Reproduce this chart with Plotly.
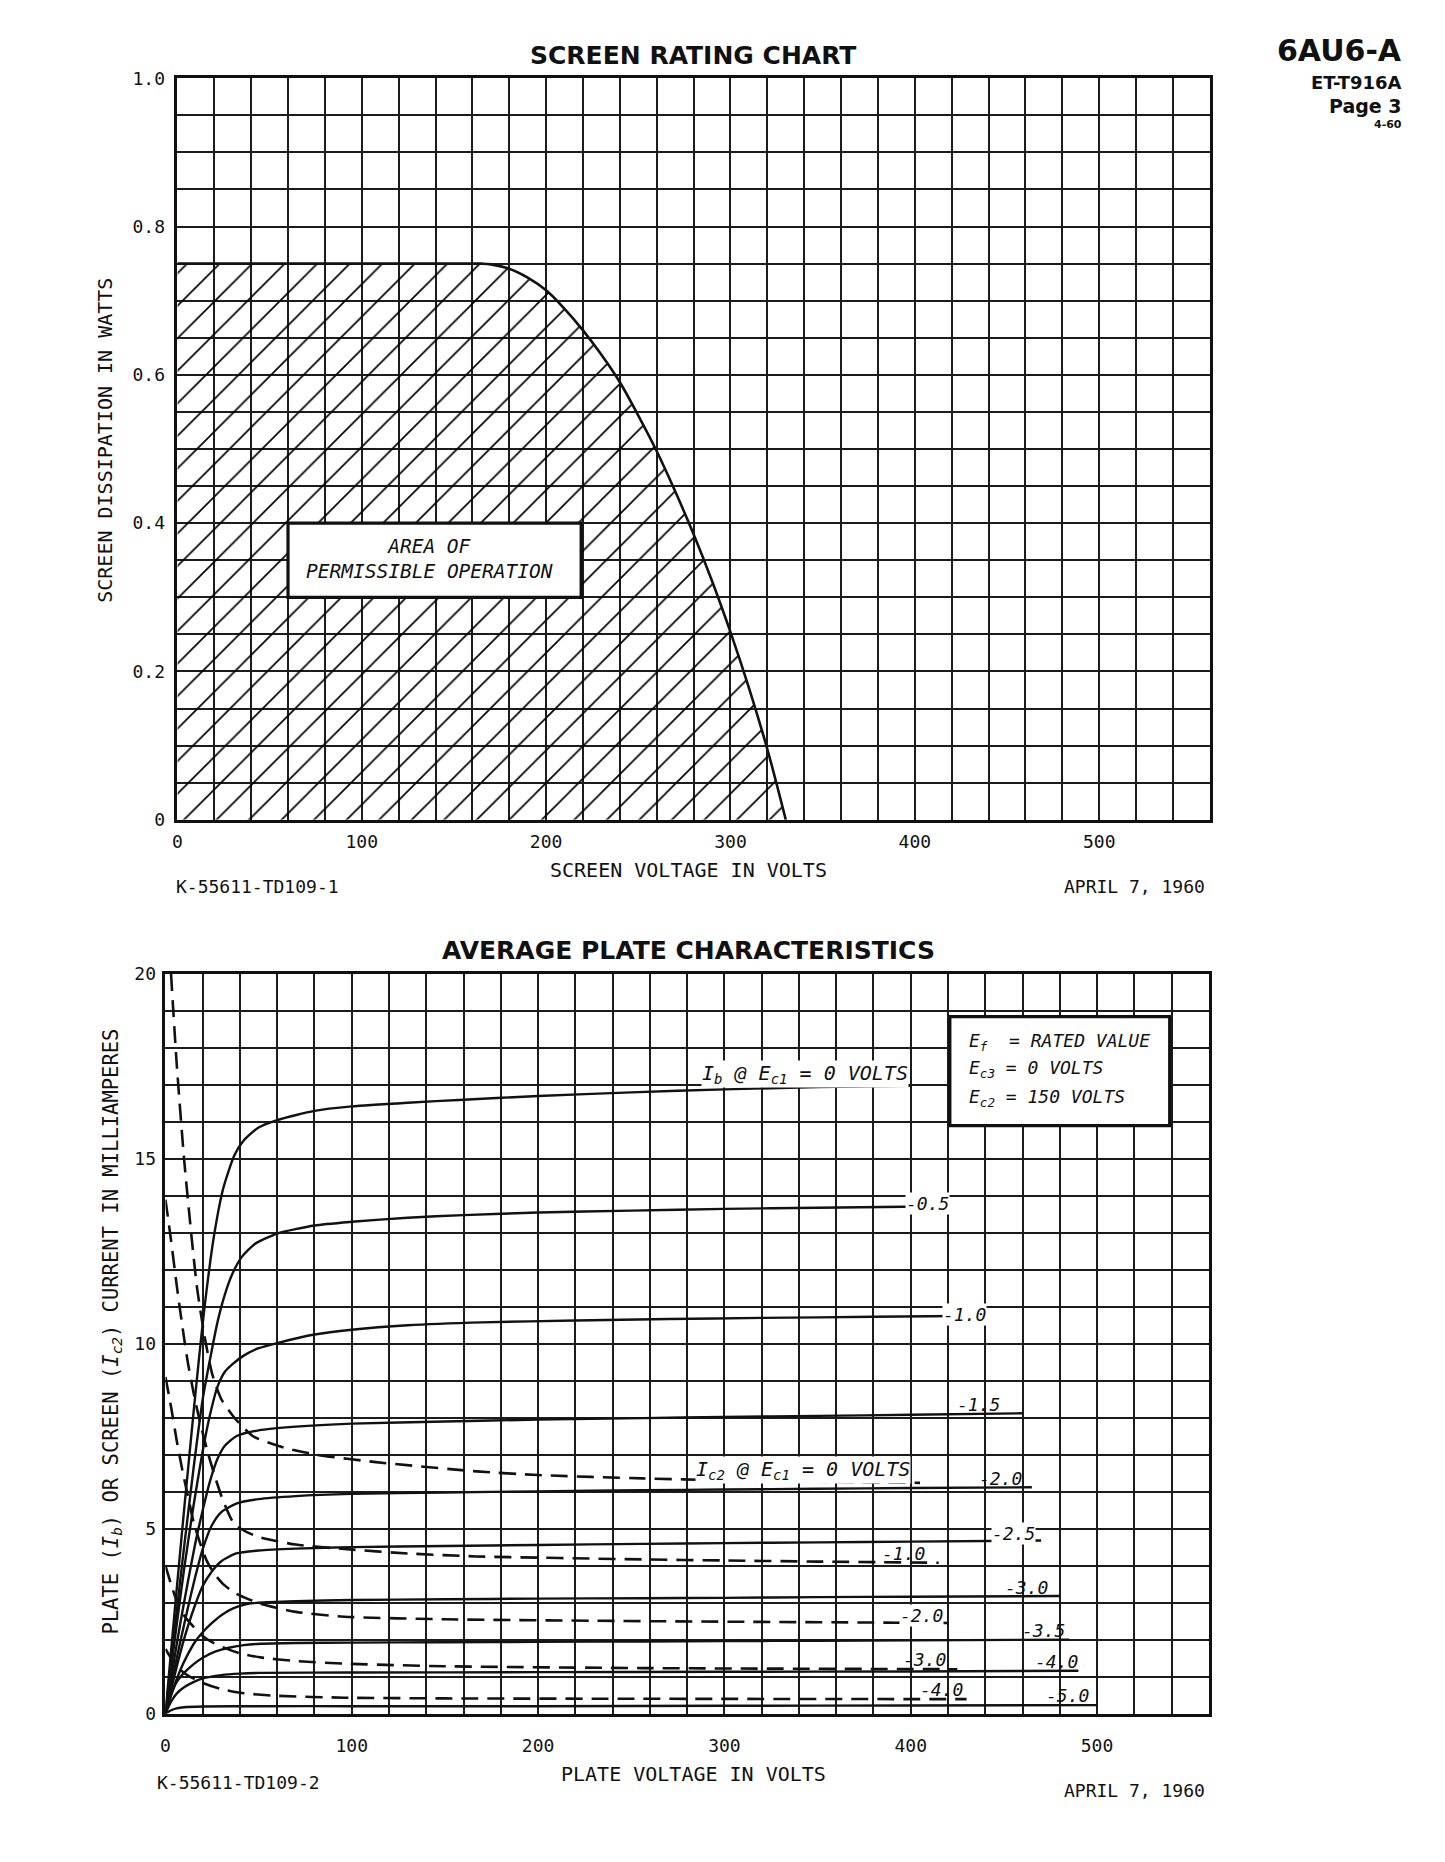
import plotly.graph_objects as go

W, H = 1445, 1862

# ---------------- SCREEN RATING CHART data ----------------
screen_voltage = [0, 50, 100, 150, 165, 170, 180, 190, 200, 210, 220, 230, 240, 250, 260, 270,
                  280, 290, 300, 310, 320, 330]
screen_dissipation = [0.75, 0.75, 0.75, 0.75, 0.75, 0.749, 0.743, 0.731, 0.714, 0.689, 0.66,
                      0.627, 0.59, 0.545, 0.497, 0.443, 0.385, 0.322, 0.253, 0.178, 0.095, 0.0]

rating_x_ticks = [0, 100, 200, 300, 400, 500]
rating_x_labels = ["0", "100", "200", "300", "400", "500"]
rating_y_ticks = [0, 0.2, 0.4, 0.6, 0.8, 1.0]
rating_y_labels = ["0", "0.2", "0.4", "0.6", "0.8", "1.0"]

# ---------------- AVERAGE PLATE CHARACTERISTICS data ----------------
plate_x_ticks = [0, 100, 200, 300, 400, 500]
plate_x_labels = ["0", "100", "200", "300", "400", "500"]
plate_y_ticks = [0, 5, 10, 15, 20]
plate_y_labels = ["0", "5", "10", "15", "20"]

# plate current Ib (solid) for each grid-1 voltage
ib_v_0 = [0, 5, 10, 15, 18, 21, 26, 31, 37, 42, 50, 60, 80, 100, 130, 160, 200, 250, 300, 350, 400]
ib_i_0 = [0, 2.8, 5.5, 8.1, 9.6, 11.0, 12.9, 14.2, 15.1, 15.5, 15.85, 16.05, 16.3, 16.42, 16.52, 16.6, 16.7, 16.8, 16.88, 16.94, 16.98]

ib_v_05 = [0, 5, 10, 15, 20, 24, 28, 32, 36, 41, 48, 60, 80, 100, 130, 160, 200, 250, 300, 350, 420]
ib_i_05 = [0, 2.3, 4.5, 6.6, 8.5, 9.6, 10.6, 11.35, 11.9, 12.35, 12.7, 12.98, 13.2, 13.3, 13.41, 13.48, 13.55, 13.6, 13.65, 13.68, 13.72]

ib_v_10 = [0, 5, 10, 15, 20, 24, 28, 32, 36, 42, 50, 60, 80, 100, 130, 170, 220, 270, 320, 380, 440]
ib_i_10 = [0, 2.0, 3.9, 5.6, 7.1, 8.1, 8.85, 9.25, 9.45, 9.68, 9.88, 10.02, 10.25, 10.38, 10.5, 10.58, 10.63, 10.67, 10.7, 10.73, 10.76]

ib_v_15 = [0, 4, 8, 12, 16, 20, 24, 28, 32, 38, 50, 70, 100, 150, 200, 256, 300, 350, 400, 460]
ib_i_15 = [0, 1.25, 2.45, 3.55, 4.6, 5.5, 6.3, 6.9, 7.25, 7.5, 7.66, 7.76, 7.84, 7.9, 7.95, 7.99, 8.02, 8.05, 8.08, 8.12]

ib_v_20 = [0, 4, 8, 12, 16, 20, 25, 30, 38, 50, 70, 100, 150, 200, 256, 300, 350, 400, 465]
ib_i_20 = [0, 1.0, 1.95, 2.85, 3.7, 4.45, 5.1, 5.45, 5.68, 5.8, 5.88, 5.94, 5.98, 6.01, 6.04, 6.06, 6.08, 6.1, 6.12]

ib_v_25 = [0, 4, 8, 12, 16, 20, 25, 30, 38, 50, 70, 100, 150, 200, 256, 300, 350, 400, 470]
ib_i_25 = [0, 0.85, 1.65, 2.35, 2.95, 3.45, 3.85, 4.12, 4.33, 4.41, 4.46, 4.5, 4.53, 4.56, 4.59, 4.61, 4.63, 4.65, 4.68]

ib_v_30 = [0, 4, 8, 12, 16, 20, 25, 30, 36, 42, 50, 70, 100, 150, 200, 256, 300, 350, 400, 480]
ib_i_30 = [0, 0.65, 1.18, 1.6, 1.95, 2.2, 2.45, 2.66, 2.84, 2.94, 3.0, 3.04, 3.07, 3.09, 3.11, 3.12, 3.13, 3.15, 3.16, 3.18]

ib_v_35 = [0, 3, 6, 10, 15, 20, 27, 34, 42, 51, 70, 100, 150, 200, 256, 300, 350, 400, 485]
ib_i_35 = [0, 0.5, 0.85, 1.1, 1.33, 1.51, 1.68, 1.78, 1.85, 1.89, 1.91, 1.92, 1.93, 1.94, 1.95, 1.96, 1.97, 1.98, 2.0]

ib_v_40 = [0, 3, 6, 10, 15, 20, 30, 40, 51, 100, 200, 300, 400, 490]
ib_i_40 = [0, 0.32, 0.54, 0.71, 0.85, 0.95, 1.04, 1.08, 1.1, 1.11, 1.12, 1.13, 1.14, 1.16]

ib_v_50 = [0, 3, 6, 10, 20, 50, 100, 200, 300, 400, 500]
ib_i_50 = [0, 0.09, 0.14, 0.17, 0.19, 0.2, 0.2, 0.2, 0.21, 0.22, 0.23]

# screen current Ic2 (dashed)
ic2_v_0 = [3, 6, 10, 14, 17, 21, 25, 30, 37, 47, 63, 81, 113, 167, 200, 256, 300, 350, 405]
ic2_i_0 = [20.0, 17.6, 15.0, 12.9, 11.5, 10.2, 9.2, 8.5, 8.0, 7.5, 7.2, 7.0, 6.8, 6.55, 6.45, 6.36, 6.31, 6.27, 6.24]

ic2_v_10 = [0, 3, 6, 9, 12, 15, 18, 22, 26, 31, 37, 44, 51, 70, 96, 130, 167, 256, 300, 350, 415]
ic2_i_10 = [13.9, 12.8, 11.6, 10.5, 9.5, 8.7, 8.0, 7.2, 6.5, 5.75, 5.12, 4.9, 4.76, 4.57, 4.45, 4.33, 4.25, 4.17, 4.14, 4.11, 4.08]

ic2_v_20 = [0, 3, 6, 9, 12, 15, 18, 22, 26, 31, 38, 51, 70, 96, 150, 256, 420]
ic2_i_20 = [9.1, 8.3, 7.4, 6.6, 5.9, 5.2, 4.7, 4.15, 3.8, 3.5, 3.24, 2.97, 2.75, 2.62, 2.55, 2.5, 2.45]

ic2_v_30 = [0, 3, 6, 10, 15, 20, 25, 32, 40, 51, 70, 96, 150, 256, 425]
ic2_i_30 = [4.0, 3.5, 3.05, 2.65, 2.35, 2.1, 1.93, 1.77, 1.63, 1.52, 1.42, 1.35, 1.28, 1.23, 1.2]

ic2_v_40 = [0, 3, 6, 10, 15, 20, 30, 42, 60, 96, 150, 256, 430]
ic2_i_40 = [1.75, 1.5, 1.3, 1.1, 0.95, 0.83, 0.66, 0.55, 0.48, 0.43, 0.41, 0.4, 0.39]

plate_curves = [(ib_v_0, ib_i_0), (ib_v_05, ib_i_05), (ib_v_10, ib_i_10), (ib_v_15, ib_i_15),
                (ib_v_20, ib_i_20), (ib_v_25, ib_i_25), (ib_v_30, ib_i_30), (ib_v_35, ib_i_35),
                (ib_v_40, ib_i_40), (ib_v_50, ib_i_50)]
screen_curves = [(ic2_v_0, ic2_i_0), (ic2_v_10, ic2_i_10), (ic2_v_20, ic2_i_20),
                 (ic2_v_30, ic2_i_30), (ic2_v_40, ic2_i_40)]

# ---------------- styling ----------------
MONO = "DejaVu Sans Mono"
SANS = "DejaVu Sans"
INK = "#111111"
GRID = "#1c1c1c"


def px(x):
    return x / W


def py(y):
    return 1 - y / H


fig = go.Figure()

# screen rating curve with hatched permissible area
fig.add_trace(go.Scatter(
    x=screen_voltage, y=screen_dissipation, xaxis="x", yaxis="y", mode="lines",
    line=dict(color=INK, width=2.6, shape="spline", smoothing=1.0),
    fill="tozeroy", fillcolor="rgba(0,0,0,0)",
    fillpattern=dict(shape="/", size=23, solidity=0.072, fgcolor="#000000", fgopacity=1,
                     bgcolor="rgba(0,0,0,0)"),
    hoverinfo="skip"))

for v, i in plate_curves:
    fig.add_trace(go.Scatter(x=v, y=i, xaxis="x2", yaxis="y2", mode="lines",
                             line=dict(color=INK, width=2.4, shape="spline", smoothing=0.6),
                             hoverinfo="skip"))
for v, i in screen_curves:
    fig.add_trace(go.Scatter(x=v, y=i, xaxis="x2", yaxis="y2", mode="lines",
                             line=dict(color=INK, width=2.6, shape="spline", smoothing=0.6,
                                       dash="17px,9px"),
                             hoverinfo="skip"))


def axis(**kw):
    base = dict(showgrid=True, gridcolor=GRID, gridwidth=1.7, showline=True, linecolor=INK,
                linewidth=2.6, mirror=True, zeroline=False, ticks="",
                tickfont=dict(family=MONO, size=18, color=INK), fixedrange=True,
                tickmode="array")
    base.update(kw)
    return base


fig.update_layout(
    width=W, height=H, margin=dict(l=0, r=0, t=0, b=0),
    paper_bgcolor="white", plot_bgcolor="white", showlegend=False,
    xaxis=axis(domain=[px(173), px(1209)], range=[0, 560], anchor="y",
               tickvals=rating_x_ticks, ticktext=rating_x_labels, ticklabelstandoff=4,
               minor=dict(tickmode="linear", tick0=0, dtick=20, showgrid=True,
                          gridcolor=GRID, gridwidth=1.7)),
    yaxis=axis(domain=[py(818), py(68)], range=[0, 1.0], anchor="x",
               tickvals=rating_y_ticks, ticktext=rating_y_labels, ticklabelstandoff=6,
               minor=dict(tickmode="linear", tick0=0, dtick=0.05, showgrid=True,
                          gridcolor=GRID, gridwidth=1.7)),
    xaxis2=axis(domain=[px(161), px(1208)], range=[0, 560], anchor="y2",
                tickvals=plate_x_ticks, ticktext=plate_x_labels, ticklabelstandoff=14,
                minor=dict(tickmode="linear", tick0=0, dtick=20, showgrid=True,
                           gridcolor=GRID, gridwidth=1.7)),
    yaxis2=axis(domain=[py(1722), py(974)], range=[0, 20], anchor="x2",
                tickvals=plate_y_ticks, ticktext=plate_y_labels, ticklabelstandoff=3,
                minor=dict(tickmode="linear", tick0=0, dtick=1, showgrid=True,
                           gridcolor=GRID, gridwidth=1.7)),
)

# boxes
fig.add_shape(type="rect", xref="x", yref="y", x0=60, x1=219, y0=0.3, y1=0.4,
              fillcolor="white", line=dict(color=INK, width=3.2), layer="above")
fig.add_shape(type="rect", xref="x2", yref="y2", x0=421, x1=539, y0=15.9, y1=18.85,
              fillcolor="white", line=dict(color=INK, width=3.2), layer="above")

ann = []


def txt(text, x, y, size=19, family=MONO, xanchor="center", yanchor="middle", angle=0,
        weight="normal", italic=False, xref="paper", yref="paper", bg=None, align="center"):
    d = dict(text=text, x=x, y=y, xref=xref, yref=yref, showarrow=False, xanchor=xanchor,
             yanchor=yanchor, textangle=angle, align=align,
             font=dict(family=family, size=size, color=INK, weight=weight,
                       style="italic" if italic else "normal"))
    if bg:
        d["bgcolor"] = bg
        d["borderpad"] = 0
    ann.append(d)


# headers
txt("SCREEN RATING CHART", px(690), py(45), size=25, family=SANS, weight="bold")
txt("AVERAGE PLATE CHARACTERISTICS", px(686), py(950), size=25, family=SANS, weight="bold")
txt("6AU6-A", px(1404), py(40), size=30, family=SANS, weight="bold", xanchor="right")
txt("ET-T916A", px(1404), py(72), size=18, family=SANS, weight="bold", xanchor="right")
txt("Page 3", px(1404), py(96), size=19, family=SANS, weight="bold", xanchor="right")
txt("4-60", px(1404), py(115), size=11, family=SANS, weight="bold", xanchor="right")

# top chart texts
txt("SCREEN DISSIPATION IN WATTS", px(100), py(434), size=20, angle=-90)
txt("SCREEN VOLTAGE IN VOLTS", px(686), py(869), size=20)
txt("K-55611-TD109-1", px(170), py(885), size=18, xanchor="left")
txt("APRIL 7, 1960", px(1206), py(885), size=18, xanchor="right")
txt("AREA OF<br>PERMISSIBLE OPERATION", 137, 0.352, size=19.5, italic=True,
    xref="x", yref="y")

# bottom chart texts
txt("PLATE (<i>I</i><sub><i>b</i></sub>) OR SCREEN (<i>I</i><sub><i>c2</i></sub>) CURRENT IN MILLIAMPERES",
    px(107), py(1336), size=20.5, angle=-90)
txt("PLATE VOLTAGE IN VOLTS", px(691), py(1783), size=20)
txt("K-55611-TD109-2", px(151), py(1792), size=18, xanchor="left")
txt("APRIL 7, 1960", px(1206), py(1800), size=18, xanchor="right")

# conditions box
txt("E<sub>f</sub>  = RATED VALUE", 430, 18.15, size=18, italic=True, xanchor="left",
    xref="x2", yref="y2")
txt("E<sub>c3</sub> = 0 VOLTS", 430, 17.42, size=18, italic=True, xanchor="left",
    xref="x2", yref="y2")
txt("E<sub>c2</sub> = 150 VOLTS", 430, 16.65, size=18, italic=True, xanchor="left",
    xref="x2", yref="y2")

# curve labels (text sits just above the end of each curve)
L = dict(size=18, italic=True, xref="x2", yref="y2", xanchor="right")
txt("I<sub>b</sub> @ E<sub>c1</sub> = 0 VOLTS", 399, 16.92, yanchor="bottom", bg="white",
    **dict(L, size=20))
txt("-0.5", 421, 13.8, bg="white", **L)
txt("-1.0", 441, 10.8, bg="white", **L)
txt("-1.5", 449, 8.02, yanchor="bottom", **L)
txt("I<sub>c2</sub> @ E<sub>c1</sub> = 0 VOLTS", 400, 6.22, yanchor="bottom", bg="white",
    **dict(L, size=20))
txt("-2.0", 461, 6.02, yanchor="bottom", **L)
txt("-2.5", 467, 4.56, yanchor="bottom", bg="white", **L)
txt("-1.0", 409, 3.98, yanchor="bottom", **L)
txt("-3.0", 475, 3.07, yanchor="bottom", **L)
txt("-2.0", 418, 2.35, yanchor="bottom", bg="white", **L)
txt("-3.5", 484, 1.9, yanchor="bottom", **L)
txt("-3.0", 420, 1.12, yanchor="bottom", **L)
txt("-4.0", 491, 1.07, yanchor="bottom", **L)
txt("-4.0", 429, 0.31, yanchor="bottom", **L)
txt("-5.0", 497, 0.14, yanchor="bottom", **L)

fig.update_layout(annotations=ann)

fig.write_html("out.html")
